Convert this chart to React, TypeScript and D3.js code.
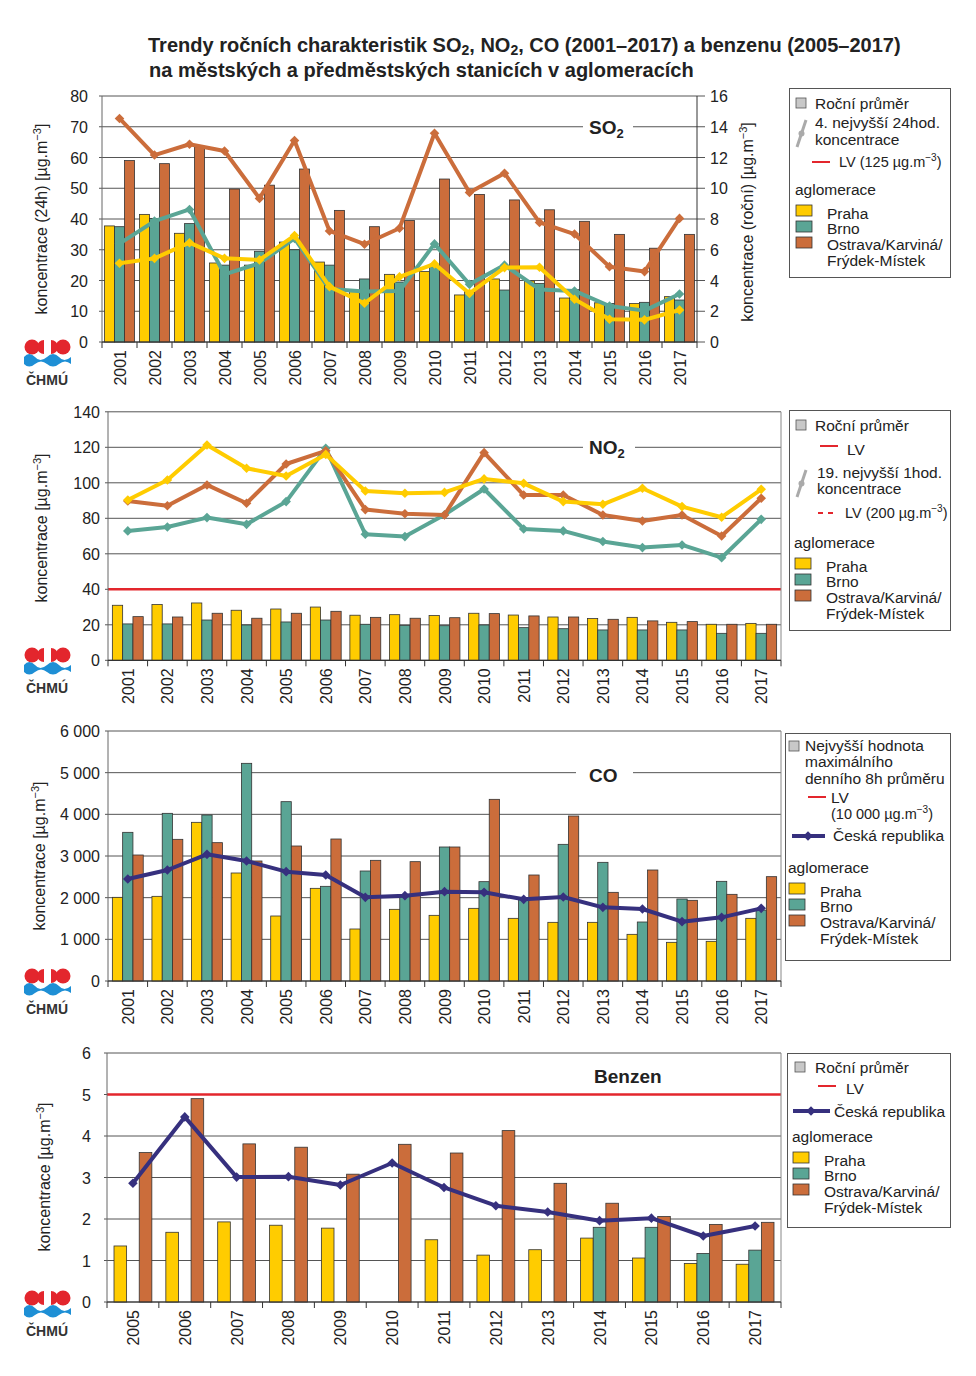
import * as d3 from "d3";

// ---- data ----
const YEARS_A = ["2001", "2002", "2003", "2004", "2005", "2006", "2007", "2008", "2009", "2010", "2011", "2012", "2013", "2014", "2015", "2016", "2017"];
const YEARS_B = ["2005", "2006", "2007", "2008", "2009", "2010", "2011", "2012", "2013", "2014", "2015", "2016", "2017"];

// SO2 annual mean (right axis) and 4th highest 24h (left axis)
const so2AvgPraha = [7.55, 8.3, 7.07, 5.14, 5.0, 6.5, 5.2, 3.3, 4.4, 4.58, 3.06, 4.1, 3.97, 2.86, 2.55, 2.5, 2.95];
const so2AvgBrno = [7.5, 8.04, 7.7, 5.0, 5.9, 6.0, 5.0, 4.1, 3.9, 4.9, 3.3, 3.38, 3.8, 3.4, 2.5, 2.58, 2.73];
const so2AvgOstrava = [11.8, 11.6, 12.7, 9.95, 10.2, 11.25, 8.56, 7.5, 7.9, 10.6, 9.6, 9.24, 8.6, 7.85, 7.0, 6.1, 7.0];
const so2MaxPraha = [25.6, 27.2, 32.3, 27.2, 26.7, 34.6, 18, 12.6, 21.2, 25.4, 15.8, 24.2, 24.3, 13.9, 7.4, 7.2, 10.4];
const so2MaxBrno = [32, 39.3, 43.1, 22, 25.6, 33.7, 17.2, 16.4, 16.6, 31.9, 18.75, 25, 17.1, 16.6, 11.7, 10.2, 15.6];
const so2MaxOstrava = [72.7, 60.8, 64.3, 62.1, 46.7, 65.5, 36.1, 31.8, 37, 67.9, 48.6, 54.9, 38.9, 35.1, 24.5, 22.9, 40.2];

// NO2 annual mean and 19th highest 1h
const no2AvgPraha = [31, 31.4, 32.3, 28.2, 28.9, 30, 25.4, 25.7, 25.2, 26.5, 25.5, 24.4, 23.5, 24.2, 21.4, 20.3, 20.8];
const no2AvgBrno = [20.5, 20.5, 22.7, 19.9, 21.6, 22.7, 20.3, 19.7, 19.5, 19.9, 18.4, 17.8, 17.1, 17.1, 17.1, 15.2, 15.2];
const no2AvgOstrava = [24.6, 24.4, 26.5, 23.7, 26.5, 27.6, 24.2, 23.7, 24.0, 26.3, 25, 24.4, 23.1, 22.2, 21.8, 20.3, 20.3];
const no2MaxPraha = [90.3, 101.6, 121.3, 108.2, 103.8, 116, 95.4, 94.1, 94.6, 102.2, 99.7, 89.4, 87.9, 96.9, 86.6, 80.6, 96.3];
const no2MaxBrno = [72.9, 75.1, 80.4, 76.6, 89.4, 119.4, 71, 69.7, 82, 96.5, 74, 72.9, 66.9, 63.5, 65, 57.8, 79.4];
const no2MaxOstrava = [89.8, 87.1, 98.8, 88.5, 110.6, 118, 84.9, 82.6, 81.9, 117, 93.1, 93.1, 81.9, 78.5, 81.9, 70, 91.3];

// CO highest daily max 8h mean
const coPraha = [2008, 2032, 3808, 2592, 1560, 2224, 1248, 1720, 1576, 1744, 1504, 1408, 1408, 1120, 928, 952, 1504];
const coBrno = [3568, 4024, 3984, 5224, 4304, 2272, 2640, 2024, 3216, 2384, 1984, 3280, 2848, 1416, 1968, 2392, 1700];
const coOstrava = [3024, 3400, 3320, 2880, 3240, 3408, 2896, 2864, 3216, 4360, 2544, 3960, 2128, 2664, 1936, 2080, 2504];
const coCR = [2448, 2664, 3040, 2880, 2624, 2544, 2008, 2048, 2144, 2128, 1960, 2016, 1768, 1728, 1424, 1528, 1744];

// Benzene annual mean
const bzPraha = [1.35, 1.68, 1.93, 1.85, 1.78, null, 1.5, 1.13, 1.26, 1.54, 1.06, 0.93, 0.91];
const bzBrno = [null, null, null, null, null, null, null, null, null, 1.8, 1.8, 1.17, 1.25];
const bzOstrava = [3.6, 4.9, 3.81, 3.73, 3.08, 3.8, 3.59, 4.13, 2.86, 2.38, 2.06, 1.87, 1.92];
const bzCR = [2.86, 4.46, 3.01, 3.02, 2.82, 3.35, 2.76, 2.32, 2.17, 1.96, 2.02, 1.59, 1.83];

const YELLOW = "#FFCC00";
const TEAL = "#5AA595";
const ORANGE = "#CB6D3B";
const NAVY = "#36307E";
const RED = "#E3262D";
const GRID = "#555";
const FONT = "'Liberation Sans', Arial, sans-serif";
const FS = 16; // tick / axis font size
const LFS = 15.5; // legend font size

type Val = number | null;
type PanelCfg = {
  x0: number; x1: number; yTop: number; yBot: number;
  years: string[]; yMax: number; yStep: number; pad: number;
  fmt: (v: number) => string; labelDx: number;
  barMax?: number; barStep?: number;
  bars: Val[][];
  lines: { values: Val[]; color: string }[];
  lv?: number;
  rightFrame?: boolean;
};

const fmtSpace = (v: number) => d3.format(",")(v).replace(/,/g, " ");

function Panel({ p }: { p: PanelCfg }) {
  const x = d3.scaleBand<string>().domain(p.years).range([p.x0, p.x1]).paddingInner(p.pad).paddingOuter(p.pad / 2);
  const sub = d3.scaleBand<string>().domain(["0", "1", "2"]).range([0, x.bandwidth()]);
  const xc = (d: string) => (x(d) as number) + x.bandwidth() / 2;
  const y = d3.scaleLinear().domain([0, p.yMax]).range([p.yBot, p.yTop]);
  const yb = p.barMax ? d3.scaleLinear().domain([0, p.barMax]).range([p.yBot, p.yTop]) : y;
  const ticks = d3.range(0, p.yMax + p.yStep / 2, p.yStep);
  const line = d3.line<Val>()
    .defined((d) => d != null)
    .x((_, i) => xc(p.years[i]))
    .y((d) => y(d as number));
  const step = x.step();
  const diamond = d3.symbol(d3.symbolSquare, 46)();
  return (
    <g>
      {ticks.map((t) => (
        <line key={t} x1={p.x0 - 3} x2={p.barMax ? p.x1 + 8 : p.x1} y1={y(t)} y2={y(t)} stroke={GRID} strokeWidth={1} />
      ))}
      {ticks.map((t) => (
        <text key={"l" + t} x={p.x0 - p.labelDx} y={y(t) + 6} textAnchor="end" fontSize={FS} fill="#222">{p.fmt(t)}</text>
      ))}
      {p.barMax && d3.range(0, p.barMax + 0.01, p.barStep as number).map((t) => (
        <text key={"r" + t} x={p.x1 + 13} y={yb(t) + 6} fontSize={FS} fill="#222">{t}</text>
      ))}
      {p.bars.map((series, si) =>
        series.map((v, i) => v == null ? null : (
          <rect key={si + "-" + i}
            x={(x(p.years[i]) as number) + (sub(String(si)) as number)}
            y={yb(v)} width={sub.bandwidth()} height={p.yBot - yb(v)}
            fill={[YELLOW, TEAL, ORANGE][si]} stroke="#333" strokeWidth={0.8} />
        ))
      )}
      {p.lv != null && <line x1={p.x0} x2={p.x1} y1={y(p.lv)} y2={y(p.lv)} stroke={RED} strokeWidth={2.5} />}
      {p.lines.map((l, li) => (
        <g key={li}>
          <path d={line(l.values) || ""} fill="none" stroke={l.color} strokeWidth={4} strokeLinejoin="round" />
          {l.values.map((v, i) => v == null ? null : (
            <path key={i} d={diamond || ""} transform={`translate(${xc(p.years[i])},${y(v)}) rotate(45)`} fill={l.color} />
          ))}
        </g>
      ))}
      <line x1={p.x0} x2={p.x0} y1={p.yTop} y2={p.yBot} stroke="#666" strokeWidth={1} />
      {p.barMax && <line x1={p.x1} x2={p.x1} y1={p.yTop} y2={p.yBot} stroke="#333" strokeWidth={1} />}
      {p.rightFrame && <line x1={p.x1} x2={p.x1} y1={p.yTop} y2={p.yBot} stroke="#888" strokeWidth={1} />}
      <line x1={p.x0} x2={p.x1} y1={p.yBot} y2={p.yBot} stroke="#333" strokeWidth={1.2} />
      {d3.range(p.years.length + 1).map((i) => (
        <line key={"t" + i} x1={p.x0 + i * step} x2={p.x0 + i * step} y1={p.yBot} y2={p.yBot + 6} stroke="#333" />
      ))}
      {p.years.map((yr) => (
        <text key={yr} transform={`translate(${xc(yr) + 6},${p.yBot + 8}) rotate(-90)`} textAnchor="end" fontSize={FS} fill="#222">{yr}</text>
      ))}
    </g>
  );
}

function Logo({ y }: { y: number }) {
  // y = centre line of the red circles
  const wave = `M24,${y + 10} q5,-6 11,0 q5,6 12,0 q6,-6 12,0 q5,6 12,0 l0,7 q-6,-5 -12,0 q-6,5 -12,0 q-6,-5 -12,0 q-6,5 -11,0 z`;
  return (
    <g>
      <circle cx={32} cy={y} r={7.5} fill={RED} />
      <circle cx={63} cy={y} r={7.5} fill={RED} />
      <path d={`M44,${y - 7} a7,7 0 0,0 0,14 z`} fill={RED} />
      <path d={`M51,${y - 7} a7,7 0 0,1 0,14 z`} fill={RED} />
      <path d={wave} fill="#1E8FD5" />
      <text x={47} y={y + 38} textAnchor="middle" fontSize={14} fontWeight="bold" fill="#333">ČHMÚ</text>
    </g>
  );
}

function Sq({ x, y, c }: { x: number; y: number; c: string }) {
  return <rect x={x} y={y} width={16} height={11} fill={c} stroke="#333" strokeWidth={0.8} />;
}

function Gray({ x, y }: { x: number; y: number }) {
  return <rect x={x} y={y} width={10} height={10} fill="#c8c8c8" stroke="#555" strokeWidth={0.8} />;
}

function Slant({ x, y }: { x: number; y: number }) {
  return (
    <g>
      <line x1={x} y1={y + 27} x2={x + 9} y2={y} stroke="#aaa" strokeWidth={3} />
      <circle cx={x + 4.5} cy={y + 13.5} r={3} fill="#aaa" />
    </g>
  );
}

function Agl({ x, y }: { x: number; y: number }) {
  return (
    <g>
      <text x={x} y={y} fontSize={LFS}>aglomerace</text>
      <Sq x={x + 1} y={y + 10} c={YELLOW} />
      <Sq x={x + 1} y={y + 26} c={TEAL} />
      <Sq x={x + 1} y={y + 42} c={ORANGE} />
      <text x={x + 32} y={y + 24} fontSize={LFS}>Praha</text>
      <text x={x + 32} y={y + 39} fontSize={LFS}>Brno</text>
      <text x={x + 32} y={y + 55} fontSize={LFS}>Ostrava/Karviná/</text>
      <text x={x + 32} y={y + 71} fontSize={LFS}>Frýdek-Místek</text>
    </g>
  );
}

const Sup = () => <><tspan>µg.m</tspan><tspan dy={-6} fontSize={11}>−3</tspan><tspan dy={6}>]</tspan></>;

export default function App() {
  const p1: PanelCfg = {
    x0: 102, x1: 697, yTop: 96, yBot: 342, years: YEARS_A, yMax: 80, yStep: 10, pad: 0.14,
    fmt: (v) => String(v), labelDx: 14, barMax: 16, barStep: 2,
    bars: [so2AvgPraha, so2AvgBrno, so2AvgOstrava],
    lines: [{ values: so2MaxOstrava, color: ORANGE }, { values: so2MaxBrno, color: TEAL }, { values: so2MaxPraha, color: YELLOW }],
  };
  const p2: PanelCfg = {
    x0: 108, x1: 781, yTop: 411.8, yBot: 660.3, years: YEARS_A, yMax: 140, yStep: 20, pad: 0.22,
    fmt: (v) => String(v), labelDx: 8, lv: 40, rightFrame: true,
    bars: [no2AvgPraha, no2AvgBrno, no2AvgOstrava],
    lines: [{ values: no2MaxBrno, color: TEAL }, { values: no2MaxOstrava, color: ORANGE }, { values: no2MaxPraha, color: YELLOW }],
  };
  const p3: PanelCfg = {
    x0: 108, x1: 781, yTop: 731, yBot: 981, years: YEARS_A, yMax: 6000, yStep: 1000, pad: 0.22,
    fmt: fmtSpace, labelDx: 8, rightFrame: true,
    bars: [coPraha, coBrno, coOstrava],
    lines: [{ values: coCR, color: NAVY }],
  };
  const p4: PanelCfg = {
    x0: 107, x1: 781, yTop: 1053, yBot: 1302, years: YEARS_B, yMax: 6, yStep: 1, pad: 0.27,
    fmt: (v) => String(v), labelDx: 16, lv: 5, rightFrame: true,
    bars: [bzPraha, bzBrno, bzOstrava],
    lines: [{ values: bzCR, color: NAVY }],
  };
  const dia = d3.symbol(d3.symbolSquare, 46)() || "";

  return (
    <svg width={976} height={1376} style={{ position: "absolute", left: 0, top: 0, background: "#fff" }} fontFamily={FONT}>
      <rect width={976} height={1376} fill="#fff" />
      <text x={148} y={52} fontSize={20} fontWeight="bold" fill="#222">
        Trendy ročních charakteristik SO<tspan dy={3} fontSize={14}>2</tspan><tspan dy={-3}>, NO</tspan><tspan dy={3} fontSize={14}>2</tspan><tspan dy={-3}>, CO (2001–2017) a benzenu (2005–2017)</tspan>
      </text>
      <text x={149} y={77} fontSize={20} fontWeight="bold" fill="#222">na městských a předměstských stanicích v aglomeracích</text>

      <Panel p={p1} />
      <Panel p={p2} />
      <Panel p={p3} />
      <Panel p={p4} />

      {/* panel labels */}
      <rect x={583} y={115} width={50} height={24} fill="#fff" />
      <text x={589} y={134} fontSize={19} fontWeight="bold" fill="#222">SO<tspan dy={4} fontSize={13}>2</tspan></text>
      <rect x={583} y={435} width={52} height={24} fill="#fff" />
      <text x={589} y={454} fontSize={19} fontWeight="bold" fill="#222">NO<tspan dy={4} fontSize={13}>2</tspan></text>
      <rect x={576} y={762} width={57} height={24} fill="#fff" />
      <text x={589} y={782} fontSize={19} fontWeight="bold" fill="#222">CO</text>
      <text x={594} y={1083} fontSize={19} fontWeight="bold" fill="#222">Benzen</text>

      {/* axis titles */}
      <text transform="translate(47,219) rotate(-90)" textAnchor="middle" fontSize={FS} fill="#222">koncentrace (24h) [<Sup /></text>
      <text transform="translate(753,222) rotate(-90)" textAnchor="middle" fontSize={FS} fill="#222">koncentrace (roční) [<Sup /></text>
      <text transform="translate(47,528) rotate(-90)" textAnchor="middle" fontSize={FS} fill="#222">koncentrace [<Sup /></text>
      <text transform="translate(45,856) rotate(-90)" textAnchor="middle" fontSize={FS} fill="#222">koncentrace [<Sup /></text>
      <text transform="translate(50,1177) rotate(-90)" textAnchor="middle" fontSize={FS} fill="#222">koncentrace [<Sup /></text>

      <Logo y={347} />
      <Logo y={655} />
      <Logo y={976} />
      <Logo y={1298} />

      {/* legend 1 */}
      <g fill="#222">
        <rect x={789.5} y={88.5} width={161} height={189} fill="#fff" stroke="#555" />
        <Gray x={796} y={98} />
        <text x={815} y={109} fontSize={LFS}>Roční průměr</text>
        <Slant x={797} y={120} />
        <text x={815} y={128} fontSize={LFS}>4. nejvyšší 24hod.</text>
        <text x={815} y={145} fontSize={LFS}>koncentrace</text>
        <line x1={812} x2={830} y1={162} y2={162} stroke={RED} strokeWidth={2} />
        <text x={839} y={167} fontSize={14.5}>LV (125 µg.m<tspan dy={-6} fontSize={10}>−3</tspan><tspan dy={6}>)</tspan></text>
        <Agl x={795} y={195} />
      </g>

      {/* legend 2 */}
      <g fill="#222">
        <rect x={789.5} y={410.5} width={161} height={220} fill="#fff" stroke="#555" />
        <Gray x={796} y={420} />
        <text x={815} y={431} fontSize={LFS}>Roční průměr</text>
        <line x1={820} x2={838} y1={446} y2={446} stroke={RED} strokeWidth={2} />
        <text x={847} y={455} fontSize={LFS}>LV</text>
        <Slant x={797} y={470} />
        <text x={817} y={478} fontSize={LFS}>19. nejvyšší 1hod.</text>
        <text x={817} y={494} fontSize={LFS}>koncentrace</text>
        <line x1={818} x2={838} y1={513} y2={513} stroke={RED} strokeWidth={2} strokeDasharray="5,5" />
        <text x={845} y={518} fontSize={14.5}>LV (200 µg.m<tspan dy={-6} fontSize={10}>−3</tspan><tspan dy={6}>)</tspan></text>
        <Agl x={794} y={548} />
      </g>

      {/* legend 3 */}
      <g fill="#222">
        <rect x={785.5} y={733.5} width={165} height={227} fill="#fff" stroke="#555" />
        <Gray x={789} y={741} />
        <text x={805} y={751} fontSize={LFS}>Nejvyšší hodnota</text>
        <text x={805} y={767} fontSize={LFS}>maximálního</text>
        <text x={805} y={784} fontSize={LFS}>denního 8h průměru</text>
        <line x1={808} x2={826} y1={797} y2={797} stroke={RED} strokeWidth={2} />
        <text x={831} y={803} fontSize={LFS}>LV</text>
        <text x={831} y={819} fontSize={14.5}>(10 000 µg.m<tspan dy={-6} fontSize={10}>−3</tspan><tspan dy={6}>)</tspan></text>
        <line x1={792} x2={825} y1={836} y2={836} stroke={NAVY} strokeWidth={4} />
        <path d={dia} transform="translate(808,836) rotate(45)" fill={NAVY} />
        <text x={833} y={841} fontSize={LFS}>Česká republika</text>
        <Agl x={788} y={873} />
      </g>

      {/* legend 4 */}
      <g fill="#222">
        <rect x={787.5} y={1053.5} width={163} height={174} fill="#fff" stroke="#555" />
        <Gray x={795} y={1062} />
        <text x={815} y={1073} fontSize={LFS}>Roční průměr</text>
        <line x1={818} x2={836} y1={1086} y2={1086} stroke={RED} strokeWidth={2} />
        <text x={846} y={1094} fontSize={LFS}>LV</text>
        <line x1={793} x2={830} y1={1111} y2={1111} stroke={NAVY} strokeWidth={4} />
        <path d={dia} transform="translate(811,1111) rotate(45)" fill={NAVY} />
        <text x={834} y={1117} fontSize={LFS}>Česká republika</text>
        <Agl x={792} y={1142} />
      </g>
    </svg>
  );
}
